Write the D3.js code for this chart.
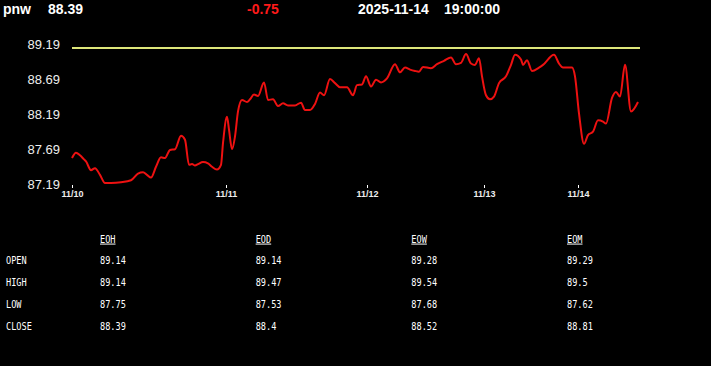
<!DOCTYPE html>
<html>
<head>
<meta charset="utf-8">
<script src="https://cdn.jsdelivr.net/npm/d3@7"></script>
<style>
  body { margin: 0; background: #000; }
  svg { display: block; }
</style>
</head>
<body>
<svg width="711" height="366"></svg>
<script>
// header
var symbol = "pnw";
var lastPrice = "88.39";
var change = "-0.75";
var stamp = ["2025-11-14", "19:00:00"];

// price series: bar index, price
var barIdx = [0, 4, 8, 12, 14, 19, 23, 28, 33, 39, 49, 59, 66, 71, 75, 79, 84, 89, 93, 98,
  103, 109, 113, 117, 120, 123, 126, 131, 136, 140, 145, 149, 151, 155, 157, 160, 163, 166, 170, 175,
  178, 182, 186, 192, 196, 201, 206, 211, 216, 223, 229, 233, 238, 243, 248, 252, 258, 263, 268, 275,
  281, 285, 290, 294, 299, 304, 309, 315, 323, 328, 333, 338, 343, 347, 351, 359, 365, 372, 379, 384,
  389, 394, 399, 403, 407, 410, 414, 418, 422, 427, 434, 439, 443, 449, 451, 455, 460, 467, 471, 482,
  487, 491, 500, 503, 507, 512, 516, 521, 526, 531, 534, 540, 544, 548, 553, 559, 566];
var prices = [87.56, 87.64, 87.60, 87.54, 87.51, 87.38, 87.41, 87.31, 87.19, 87.19, 87.20, 87.23, 87.33, 87.35, 87.31, 87.27, 87.43, 87.57, 87.56, 87.68,
  87.69, 87.89, 87.83, 87.46, 87.47, 87.45, 87.47, 87.50, 87.48, 87.43, 87.39, 87.46, 87.78, 88.17, 87.98, 87.69, 87.88, 88.25, 88.42, 88.39,
  88.43, 88.50, 88.48, 88.68, 88.42, 88.43, 88.33, 88.37, 88.34, 88.34, 88.38, 88.27, 88.27, 88.36, 88.53, 88.49, 88.73, 88.67, 88.61, 88.61,
  88.49, 88.64, 88.65, 88.77, 88.62, 88.72, 88.68, 88.74, 88.95, 88.83, 88.90, 88.87, 88.85, 88.84, 88.91, 88.89, 88.95, 89.00, 89.05, 88.95,
  88.97, 89.10, 88.96, 88.94, 89.04, 88.77, 88.49, 88.43, 88.47, 88.67, 88.77, 88.94, 89.09, 89.02, 88.94, 89.01, 88.85, 88.90, 88.94, 89.09,
  88.96, 88.90, 88.90, 88.77, 88.22, 87.77, 87.90, 87.95, 88.12, 88.10, 88.07, 88.45, 88.54, 88.47, 88.94, 88.25, 88.39];

var yTicks = [87.19, 87.69, 88.19, 88.69, 89.19];
var refLevel = 89.19;
var dayIdx = [0, 154, 295, 412, 506];
var dayLabels = ["11/10", "11/11", "11/12", "11/13", "11/14"];

// summary table
var colNames = ["EOH", "EOD", "EOW", "EOM"];
var rowNames = ["OPEN", "HIGH", "LOW", "CLOSE"];
var openVals = ["89.14", "89.14", "89.28", "89.29"];
var highVals = ["89.14", "89.47", "89.54", "89.5"];
var lowVals = ["87.75", "87.53", "87.68", "87.62"];
var closeVals = ["88.39", "88.4", "88.52", "88.81"];

var svg = d3.select("svg");
var data = barIdx.map((b, i) => ({ b: b, v: prices[i] }));

// header line
var head = svg.append("g")
  .attr("font-family", "Liberation Sans, Arial, sans-serif")
  .attr("font-weight", "bold")
  .attr("font-size", "14px");
head.append("text").attr("x", 3).attr("y", 14).attr("fill", "#fff").text(symbol);
head.append("text").attr("x", 48).attr("y", 14).attr("fill", "#fff").text(lastPrice);
head.append("text").attr("x", 247).attr("y", 14).attr("fill", "#ff1a1a").text(change);
head.append("text").attr("x", 358).attr("y", 14).attr("fill", "#fff").text(stamp[0]);
head.append("text").attr("x", 444).attr("y", 14).attr("fill", "#fff").text(stamp[1]);

var xScale = d3.scaleLinear().domain([0, 566]).range([72, 638]);
var yScale = d3.scaleLinear().domain([87.19, 89.19]).range([183, 48]);
var yLabel = yScale.copy().range([184.5, 44.5]);

// y labels
svg.append("g")
  .selectAll("text")
  .data(yTicks)
  .enter()
  .append("text")
  .attr("x", 60)
  .attr("y", (d) => yLabel(d))
  .attr("dy", "0.35em")
  .attr("text-anchor", "end")
  .attr("font-family", "Liberation Sans, Arial, sans-serif")
  .attr("font-size", "13px")
  .attr("fill", "#eee")
  .text((d) => d.toFixed(2));

// x axis
var xAxis = svg.append("g")
  .attr("transform", "translate(0,185)")
  .call(d3.axisBottom(xScale).tickValues(dayIdx).tickSize(3).tickPadding(3)
    .tickFormat((d, i) => dayLabels[i]));
xAxis.select(".domain").remove();
xAxis.selectAll("line").attr("stroke", "#fff");
xAxis.selectAll("text")
  .attr("fill", "#eee")
  .attr("font-family", "Liberation Sans, Arial, sans-serif")
  .attr("font-weight", "bold")
  .attr("font-size", "9px");

// reference line
svg.append("line")
  .attr("x1", xScale(0))
  .attr("x2", xScale(566) + 2)
  .attr("y1", yScale(refLevel))
  .attr("y2", yScale(refLevel))
  .attr("stroke", "#dde67a")
  .attr("stroke-width", 2);

// price line
var line = d3.line()
  .x((d) => xScale(d.b))
  .y((d) => yScale(d.v))
  .curve(d3.curveMonotoneX);

svg.append("path")
  .datum(data)
  .attr("fill", "none")
  .attr("stroke", "#ee1111")
  .attr("stroke-width", 2)
  .attr("d", line);

// table (narrow mono text)
var colX = d3.scalePoint().domain(colNames).range([100, 567]);
var rowY = d3.scalePoint().domain(rowNames).range([263.5, 329.5]);
var rows = [openVals, highVals, lowVals, closeVals];
var sx = 0.86;

var tbl = svg.append("g")
  .attr("font-family", "DejaVu Sans Mono, monospace")
  .attr("font-size", "10px")
  .attr("fill", "#fff");

function cell(x, y, s) {
  return tbl.append("text")
    .attr("transform", "translate(" + x + "," + y + ") scale(" + sx + ",1)")
    .text(s);
}

colNames.forEach((c) => {
  cell(colX(c), 242.5, c).attr("text-decoration", "underline");
});
rowNames.forEach((r, ri) => {
  cell(6, rowY(r), r);
  rows[ri].forEach((v, ci) => cell(colX(colNames[ci]), rowY(r), v));
});
</script>
</body>
</html>
